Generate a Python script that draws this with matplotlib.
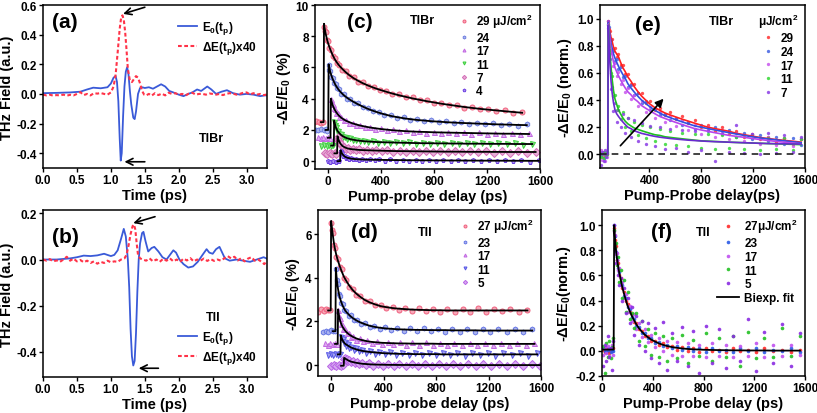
"""
THz field waveforms and fluence-dependent transient THz transmission
for TlBr and TlI (six-panel figure).
"""

import numpy as np
import matplotlib
matplotlib.use("Agg")
import matplotlib.pyplot as plt
from matplotlib.ticker import FormatStrFormatter

plt.rcParams["font.family"] = ["Liberation Sans", "DejaVu Sans"]
plt.rcParams["font.weight"] = "bold"
plt.rcParams["axes.labelweight"] = "bold"
plt.rcParams["mathtext.fontset"] = "custom"
plt.rcParams["mathtext.rm"] = "Liberation Sans:bold"
plt.rcParams["mathtext.it"] = "Liberation Sans:bold"
plt.rcParams["mathtext.bf"] = "Liberation Sans:bold"
plt.rcParams["axes.unicode_minus"] = False
plt.rcParams["axes.linewidth"] = 1.1

# ---------------- (a) TlBr waveforms: (time ps, field) ----------------
a_E0 = [(0.0, 0.005), (0.2, 0.007), (0.4, 0.01), (0.55, 0.015), (0.65, 0.03), (0.74, 0.042),
        (0.85, 0.038), (0.95, 0.045), (1.0, 0.07), (1.04, 0.11), (1.07, 0.12), (1.09, 0.08),
        (1.11, -0.05), (1.13, -0.3), (1.145, -0.45), (1.16, -0.4), (1.18, -0.15), (1.2, 0.05),
        (1.22, 0.15), (1.24, 0.18), (1.26, 0.13), (1.28, 0.02), (1.3, -0.07), (1.33, -0.16),
        (1.35, -0.17), (1.37, -0.12), (1.4, 0.0), (1.43, 0.04), (1.46, 0.045), (1.5, 0.04),
        (1.56, 0.045), (1.62, 0.035), (1.68, 0.05), (1.74, 0.065), (1.8, 0.05), (1.86, 0.02),
        (1.92, 0.01), (2.0, -0.005), (2.07, -0.015), (2.14, 0.0), (2.2, 0.01), (2.27, 0.03),
        (2.33, 0.02), (2.42, 0.05), (2.48, 0.03), (2.55, 0.0), (2.63, 0.015), (2.71, 0.025),
        (2.8, 0.005), (2.9, -0.005), (3.0, 0.0), (3.1, -0.005), (3.2, -0.015), (3.27, -0.01),
        (3.33, -0.01)]
a_dE = [(0.0, -0.005), (0.05, -0.01), (0.1, -0.005), (0.15, -0.012), (0.2, -0.008), (0.25, -0.01),
        (0.3, -0.005), (0.35, -0.012), (0.4, -0.006), (0.45, -0.01), (0.5, 0.0), (0.55, 0.012),
        (0.6, -0.008), (0.65, 0.0), (0.7, -0.01), (0.75, 0.005), (0.8, 0.002), (0.85, 0.006),
        (0.9, 0.0), (0.95, -0.005), (1.0, 0.01), (1.04, 0.05), (1.07, 0.13), (1.1, 0.28),
        (1.13, 0.44), (1.15, 0.51), (1.17, 0.53), (1.19, 0.5), (1.21, 0.42), (1.23, 0.3),
        (1.25, 0.17), (1.28, 0.09), (1.31, 0.08), (1.34, 0.1), (1.37, 0.12), (1.4, 0.11),
        (1.43, 0.07), (1.46, 0.02), (1.49, -0.005), (1.52, -0.01), (1.56, 0.0), (1.6, -0.012),
        (1.65, 0.005), (1.7, -0.008), (1.75, 0.002), (1.8, -0.01), (1.85, 0.008), (1.9, 0.0),
        (1.95, 0.005), (2.0, -0.005), (2.05, 0.0), (2.1, -0.01), (2.15, 0.002), (2.2, 0.008),
        (2.25, -0.005), (2.3, 0.0), (2.35, 0.0), (2.4, -0.005), (2.45, 0.003), (2.5, 0.0),
        (2.55, -0.005), (2.6, 0.0), (2.65, -0.008), (2.7, 0.0), (2.75, 0.005), (2.8, 0.002),
        (2.85, -0.005), (2.9, 0.0), (2.95, 0.008), (3.0, 0.01), (3.05, -0.004), (3.1, 0.005),
        (3.15, -0.005), (3.2, 0.0), (3.25, -0.008), (3.3, -0.004)]

# ---------------- (b) TlI waveforms ----------------
b_E0 = [(0.0, 0.0), (0.2, 0.0), (0.4, 0.005), (0.5, 0.01), (0.6, 0.017), (0.7, 0.015),
        (0.8, 0.018), (0.9, 0.025), (0.95, 0.02), (1.0, 0.015), (1.05, 0.02), (1.1, 0.04),
        (1.15, 0.09), (1.19, 0.133), (1.22, 0.1), (1.25, 0.0), (1.27, -0.12), (1.29, -0.3),
        (1.31, -0.42), (1.33, -0.46), (1.35, -0.44), (1.37, -0.32), (1.39, -0.14), (1.41, 0.0),
        (1.43, 0.07), (1.46, 0.115), (1.48, 0.12), (1.51, 0.08), (1.55, 0.035), (1.6, 0.05),
        (1.64, 0.055), (1.7, 0.035), (1.76, 0.01), (1.82, 0.0), (1.87, 0.02), (1.92, 0.04),
        (1.96, 0.03), (2.01, 0.0), (2.07, -0.02), (2.14, -0.035), (2.21, -0.03), (2.28, -0.01),
        (2.35, 0.02), (2.41, 0.045), (2.45, 0.03), (2.5, 0.025), (2.55, 0.045), (2.6, 0.055),
        (2.64, 0.03), (2.68, 0.005), (2.75, -0.005), (2.85, 0.0), (2.95, -0.005), (3.05, -0.01),
        (3.15, 0.0), (3.25, 0.01), (3.33, 0.0)]
b_dE = [(0.0, 0.0), (0.05, -0.005), (0.1, 0.002), (0.15, -0.008), (0.2, -0.004), (0.25, -0.01),
        (0.3, 0.0), (0.35, 0.012), (0.4, -0.005), (0.45, 0.004), (0.5, -0.008), (0.55, -0.002),
        (0.6, -0.012), (0.65, -0.005), (0.7, -0.015), (0.75, -0.008), (0.8, -0.018), (0.85, -0.01),
        (0.9, -0.015), (0.95, -0.005), (1.0, -0.012), (1.05, -0.008), (1.1, -0.01), (1.15, 0.0),
        (1.2, 0.005), (1.23, 0.02), (1.26, 0.06), (1.29, 0.11), (1.32, 0.145), (1.34, 0.152),
        (1.36, 0.13), (1.38, 0.07), (1.4, 0.02), (1.43, 0.005), (1.47, 0.0), (1.52, -0.005),
        (1.57, 0.005), (1.62, -0.008), (1.67, 0.0), (1.72, -0.01), (1.77, 0.003), (1.82, -0.005),
        (1.87, 0.005), (1.92, -0.008), (1.97, 0.0), (2.02, -0.01), (2.07, 0.004), (2.12, -0.004),
        (2.17, 0.006), (2.22, -0.008), (2.27, 0.0), (2.32, -0.005), (2.37, 0.004), (2.42, -0.006),
        (2.47, 0.002), (2.52, -0.006), (2.57, 0.0), (2.62, -0.005), (2.67, 0.005), (2.72, 0.015),
        (2.77, 0.005), (2.82, 0.012), (2.87, -0.004), (2.92, 0.006), (2.97, -0.008), (3.02, 0.004),
        (3.07, 0.01), (3.12, -0.005), (3.17, 0.0), (3.22, -0.01), (3.26, -0.02), (3.3, -0.005)]

# ---------------- (c), (d) delay grid relative to onset (ps) ----------------
tau_pre = [-95, -75, -55, -35, -18, -6]
tau_post = [3, 9, 16, 24, 33, 43, 55, 68, 83, 100, 120, 142, 167, 195, 226, 260, 297, 337,
            380, 425, 472, 520, 570, 620, 672, 725, 780, 835, 890, 947, 1005, 1063, 1122,
            1182, 1243, 1305, 1368, 1432, 1500]
tau_fit_pre = [-20, 0]

# ---------------- (c) TlBr, offset traces ----------------
c_labels = ["29 μJ/cm$^2$", "24", "17", "11", "7", "4"]
c_onset = [-35, 0, 17, 42, 67, 90]
c_base = [2.5, 2.0, 1.5, 1.0, 0.5, 0.0]
c_colors = ["#f0607e", "#6e7ee0", "#c268e2", "#3ccf3c", "#d46cb6", "#6a3ce2"]
c_markers = ["o", "h", "^", "v", "D", "p"]
c_data = [
    [2.55, 2.48, 2.56, 2.5, 2.45, 2.52,
     8.6, 8.35, 8.25, 7.78, 7.68, 7.25, 7.14, 6.74, 6.63, 6.26, 6.18, 5.84, 5.77, 5.45, 5.4, 5.1,
     5.06, 4.8, 4.77, 4.53, 4.52, 4.29, 4.28, 4.08, 4.08, 3.89, 3.9, 3.72, 3.74, 3.57, 3.6, 3.43,
     3.47, 3.31, 3.36, 3.21, 3.26, 3.11, 3.16],
    [2.02, 1.97, 2.05, 1.98, 2.03, 1.96,
     6.15, 5.85, 5.78, 5.42, 5.35, 5.02, 4.95, 4.66, 4.6, 4.33, 4.27, 4.0, 3.97, 3.74, 3.7, 3.45,
     3.42, 3.2, 3.16, 2.95, 2.96, 2.78, 2.8, 2.65, 2.7, 2.55, 2.62, 2.49, 2.55, 2.44, 2.5, 2.39,
     2.46, 2.35, 2.42, 2.31, 2.39, 2.28, 2.35],
    [1.52, 1.46, 1.55, 1.48, 1.53, 1.47,
     3.95, 3.72, 3.66, 3.38, 3.34, 3.08, 3.06, 2.83, 2.82, 2.62, 2.64, 2.45, 2.47, 2.3, 2.34, 2.17,
     2.21, 2.07, 2.12, 1.97, 2.05, 1.91, 1.97, 1.86, 1.93, 1.83, 1.9, 1.8, 1.88, 1.78, 1.86, 1.76,
     1.84, 1.74, 1.82, 1.72, 1.81, 1.71, 1.79],
    [0.97, 1.03, 0.98, 1.04, 0.99, 1.02,
     2.5, 2.3, 2.2, 1.95, 1.93, 1.74, 1.72, 1.56, 1.57, 1.43, 1.46, 1.34, 1.38, 1.27, 1.32, 1.22,
     1.28, 1.18, 1.25, 1.16, 1.23, 1.14, 1.21, 1.12, 1.19, 1.11, 1.18, 1.1, 1.17, 1.09, 1.16, 1.08,
     1.16, 1.07, 1.15, 1.07, 1.14, 1.06, 1.13],
    [0.52, 0.47, 0.53, 0.48, 0.51, 0.49,
     1.55, 1.38, 1.3, 1.1, 1.08, 0.92, 0.94, 0.81, 0.85, 0.74, 0.8, 0.7, 0.76, 0.67, 0.74, 0.65,
     0.72, 0.63, 0.7, 0.61, 0.68, 0.6, 0.67, 0.59, 0.66, 0.58, 0.65, 0.57, 0.65, 0.57, 0.64, 0.56,
     0.64, 0.55, 0.63, 0.55, 0.63, 0.55, 0.62],
    [0.02, -0.03, 0.01, -0.02, 0.03, -0.01,
     0.66, 0.55, 0.5, 0.34, 0.35, 0.22, 0.25, 0.15, 0.2, 0.11, 0.17, 0.08, 0.14, 0.07, 0.13, 0.05,
     0.12, 0.04, 0.11, 0.03, 0.1, 0.02, 0.09, 0.02, 0.08, 0.01, 0.08, 0.01, 0.07, 0.0, 0.07, 0.0,
     0.06, -0.01, 0.06, -0.01, 0.05, -0.02, 0.05],
]
c_fit = [
    [8.8, 8.45, 8.15, 7.85, 7.58, 7.32, 7.06, 6.8, 6.55, 6.32, 6.1, 5.9, 5.7, 5.5, 5.32, 5.15,
     4.99, 4.84, 4.7, 4.57, 4.45, 4.33, 4.22, 4.12, 4.02, 3.93, 3.84, 3.76, 3.68, 3.61, 3.54,
     3.47, 3.41, 3.35, 3.3, 3.25, 3.2, 3.15, 3.1],
    [6.2, 5.95, 5.7, 5.48, 5.28, 5.08, 4.88, 4.7, 4.53, 4.37, 4.21, 4.06, 3.92, 3.78, 3.64, 3.5,
     3.36, 3.23, 3.11, 3.0, 2.9, 2.82, 2.75, 2.69, 2.64, 2.6, 2.56, 2.53, 2.5, 2.47, 2.45, 2.43,
     2.41, 2.39, 2.37, 2.35, 2.34, 2.32, 2.31],
    [4.0, 3.8, 3.6, 3.43, 3.28, 3.14, 3.0, 2.88, 2.77, 2.67, 2.58, 2.5, 2.42, 2.35, 2.28, 2.22,
     2.16, 2.11, 2.06, 2.02, 1.98, 1.95, 1.92, 1.9, 1.88, 1.87, 1.85, 1.84, 1.83, 1.82, 1.81,
     1.8, 1.79, 1.78, 1.77, 1.76, 1.76, 1.75, 1.74],
    [2.6, 2.35, 2.15, 2.0, 1.88, 1.78, 1.68, 1.6, 1.53, 1.47, 1.42, 1.38, 1.34, 1.31, 1.28, 1.26,
     1.24, 1.22, 1.21, 1.2, 1.19, 1.18, 1.17, 1.16, 1.15, 1.15, 1.14, 1.14, 1.13, 1.13, 1.12,
     1.12, 1.12, 1.11, 1.11, 1.11, 1.1, 1.1, 1.1],
    [1.6, 1.42, 1.27, 1.14, 1.04, 0.96, 0.9, 0.85, 0.81, 0.78, 0.76, 0.74, 0.72, 0.71, 0.7, 0.69,
     0.68, 0.67, 0.66, 0.65, 0.645, 0.64, 0.635, 0.63, 0.625, 0.62, 0.615, 0.61, 0.61, 0.605,
     0.6, 0.6, 0.6, 0.595, 0.595, 0.59, 0.59, 0.59, 0.59],
    [0.7, 0.58, 0.47, 0.38, 0.31, 0.26, 0.22, 0.19, 0.165, 0.145, 0.13, 0.12, 0.11, 0.1, 0.095,
     0.09, 0.085, 0.08, 0.075, 0.07, 0.065, 0.06, 0.058, 0.055, 0.052, 0.05, 0.048, 0.045,
     0.043, 0.04, 0.038, 0.036, 0.034, 0.032, 0.03, 0.028, 0.026, 0.024, 0.022],
]

# ---------------- (d) TlI, offset traces ----------------
d_labels = ["27 μJ/cm$^2$", "23", "17", "11", "5"]
d_onset = [-3, 33, 50, 71, 96]
d_base = [2.5, 1.55, 0.97, 0.49, -0.03]
d_colors = ["#f0607e", "#6676e4", "#c268e2", "#5656e6", "#b864e6"]
d_markers = ["o", "h", "^", "v", "D"]
d_data = [
    [2.45, 2.55, 2.48, 2.56, 2.5, 2.53,
     6.5, 6.2, 6.05, 5.5, 5.38, 4.95, 4.85, 4.48, 4.38, 3.98, 3.9, 3.58, 3.5, 3.22, 3.18, 2.93,
     2.93, 2.73, 2.76, 2.6, 2.67, 2.53, 2.62, 2.49, 2.6, 2.46, 2.57, 2.45, 2.58, 2.44, 2.57, 2.45,
     2.6, 2.43, 2.56, 2.46, 2.58, 2.44, 2.54],
    [1.5, 1.58, 1.52, 1.6, 1.54, 1.57,
     4.4, 3.9, 3.7, 3.26, 3.17, 2.84, 2.79, 2.5, 2.49, 2.26, 2.27, 2.05, 2.08, 1.88, 1.93, 1.74,
     1.81, 1.66, 1.74, 1.6, 1.71, 1.57, 1.69, 1.55, 1.68, 1.54, 1.67, 1.53, 1.66, 1.52, 1.66, 1.52,
     1.65, 1.51, 1.65, 1.52, 1.64, 1.51, 1.64],
    [1.0, 0.94, 1.01, 0.95, 0.99, 0.96,
     2.5, 2.25, 2.16, 1.88, 1.86, 1.64, 1.65, 1.45, 1.48, 1.3, 1.34, 1.17, 1.23, 1.08, 1.15, 1.01,
     1.1, 0.97, 1.07, 0.95, 1.05, 0.94, 1.04, 0.93, 1.04, 0.93, 1.03, 0.92, 1.03, 0.92, 1.02, 0.91,
     1.03, 0.92, 1.02, 0.91, 1.02, 0.92, 1.01],
    [0.46, 0.52, 0.47, 0.53, 0.48, 0.5,
     1.3, 1.2, 1.19, 1.01, 1.04, 0.88, 0.95, 0.79, 0.85, 0.7, 0.78, 0.63, 0.7, 0.57, 0.66, 0.53,
     0.61, 0.49, 0.58, 0.47, 0.56, 0.46, 0.55, 0.45, 0.55, 0.44, 0.54, 0.44, 0.55, 0.43, 0.54, 0.44,
     0.55, 0.43, 0.54, 0.44, 0.56, 0.43, 0.54],
    [-0.05, 0.0, -0.04, 0.01, -0.03, -0.01,
     0.3, 0.33, 0.24, 0.27, 0.18, 0.22, 0.12, 0.17, 0.08, 0.14, 0.04, 0.1, 0.01, 0.08, -0.02, 0.07,
     -0.03, 0.05, -0.03, 0.05, -0.04, 0.05, -0.04, 0.06, -0.03, 0.05, -0.04, 0.06, -0.03, 0.05,
     -0.04, 0.06, -0.03, 0.05, -0.04, 0.05, -0.03, 0.06, -0.04],
]
d_fit = [
    [6.6, 6.3, 5.95, 5.6, 5.3, 5.03, 4.78, 4.54, 4.3, 4.05, 3.84, 3.63, 3.44, 3.27, 3.12, 2.98,
     2.87, 2.78, 2.7, 2.65, 2.61, 2.58, 2.56, 2.54, 2.53, 2.52, 2.51, 2.51, 2.5, 2.5, 2.5, 2.5,
     2.5, 2.5, 2.5, 2.5, 2.5, 2.5, 2.5],
    [4.45, 4.0, 3.62, 3.33, 3.1, 2.9, 2.72, 2.56, 2.43, 2.32, 2.21, 2.11, 2.02, 1.94, 1.87, 1.8,
     1.75, 1.71, 1.68, 1.66, 1.64, 1.63, 1.62, 1.61, 1.61, 1.6, 1.6, 1.6, 1.59, 1.59, 1.59,
     1.59, 1.58, 1.58, 1.58, 1.58, 1.58, 1.58, 1.58],
    [2.55, 2.3, 2.1, 1.93, 1.8, 1.69, 1.59, 1.5, 1.42, 1.35, 1.28, 1.22, 1.17, 1.13, 1.09, 1.06,
     1.04, 1.02, 1.01, 1.0, 0.99, 0.99, 0.98, 0.98, 0.98, 0.98, 0.97, 0.97, 0.97, 0.97, 0.97,
     0.97, 0.97, 0.97, 0.97, 0.97, 0.97, 0.97, 0.97],
    [1.36, 1.24, 1.14, 1.06, 0.99, 0.94, 0.9, 0.85, 0.8, 0.76, 0.72, 0.68, 0.65, 0.62, 0.6, 0.58,
     0.56, 0.54, 0.53, 0.52, 0.51, 0.51, 0.5, 0.5, 0.5, 0.5, 0.49, 0.49, 0.49, 0.49, 0.49,
     0.49, 0.49, 0.49, 0.49, 0.49, 0.49, 0.49, 0.49],
    [0.33, 0.31, 0.28, 0.25, 0.22, 0.19, 0.16, 0.14, 0.12, 0.1, 0.08, 0.06, 0.05, 0.035, 0.025,
     0.02, 0.015, 0.01, 0.008, 0.005, 0.005, 0.004, 0.003, 0.003, 0.002, 0.002, 0.002, 0.001,
     0.001, 0.001, 0.0, 0.0, 0.0, 0.0, 0.0, 0.0, 0.0, 0.0, 0.0],
]

# ---------------- (e) TlBr normalised ----------------
e_t_pre = [28, 38, 48, 58, 68, 76]
e_t_post = [84, 90, 97, 105, 114, 124, 135, 148, 162, 178, 195, 214, 235, 258, 283, 310, 340,
            372, 406, 442, 480, 520, 562, 606, 652, 700, 750, 800, 852, 905, 960, 1015, 1072,
            1130, 1190, 1250, 1312, 1375, 1440, 1505, 1570]
e_fit_pre_t = [28, 80]
e_labels = ["29", "24", "17", "11", "7"]
e_colors = ["#ff3030", "#4262e2", "#c855ee", "#35d835", "#8a3ce6"]
e_fit_colors = ["#ff1f1f", "#3050e0", "#b845ec", "#20c020", "#6a2ad0"]
e_data = [
    [0.01, -0.02, 0.02, -0.01, 0.01, 0.0,
     0.98, 0.92, 0.91, 0.84, 0.85, 0.77, 0.78, 0.72, 0.74, 0.66, 0.66, 0.59, 0.59, 0.52, 0.52,
     0.45, 0.45, 0.38, 0.39, 0.33, 0.34, 0.29, 0.31, 0.26, 0.28, 0.23, 0.25, 0.2, 0.22, 0.17, 0.2,
     0.15, 0.17, 0.13, 0.15, 0.11, 0.13, 0.09, 0.12, 0.08, 0.11],
    [-0.01, 0.02, -0.03, 0.01, -0.01, 0.02,
     0.95, 0.94, 0.85, 0.84, 0.76, 0.76, 0.69, 0.7, 0.63, 0.64, 0.57, 0.58, 0.5, 0.51, 0.44, 0.45,
     0.38, 0.39, 0.33, 0.34, 0.29, 0.3, 0.25, 0.27, 0.22, 0.24, 0.19, 0.22, 0.17, 0.2, 0.15, 0.18,
     0.13, 0.16, 0.11, 0.14, 0.1, 0.13, 0.08, 0.12, 0.07],
    [0.03, -0.04, 0.0, -0.05, 0.02, -0.02,
     0.93, 0.88, 0.86, 0.75, 0.76, 0.65, 0.67, 0.58, 0.61, 0.52, 0.55, 0.46, 0.49, 0.41, 0.44,
     0.36, 0.39, 0.31, 0.35, 0.27, 0.31, 0.24, 0.28, 0.21, 0.25, 0.18, 0.22, 0.15, 0.2, 0.13, 0.18,
     0.11, 0.16, 0.1, 0.15, 0.08, 0.13, 0.07, 0.12, 0.06, 0.11],
    [-0.02, 0.01, -0.03, 0.02, -0.01, 0.0,
     0.96, 0.8, 0.77, 0.6, 0.58, 0.43, 0.44, 0.33, 0.36, 0.26, 0.31, 0.2, 0.27, 0.17, 0.24, 0.14,
     0.22, 0.12, 0.2, 0.1, 0.19, 0.08, 0.17, 0.07, 0.16, 0.06, 0.15, 0.05, 0.15, 0.04, 0.14, 0.05,
     0.13, 0.04, 0.14, 0.03, 0.12, 0.04, 0.12, 0.03, 0.11],
    [-0.08, 0.02, -0.05, 0.03, -0.02, 0.01,
     0.98, 0.74, 0.7, 0.48, 0.5, 0.32, 0.38, 0.24, 0.33, 0.2, 0.3, 0.16, 0.27, 0.13, 0.25, 0.1,
     0.23, 0.08, 0.21, 0.06, 0.2, 0.04, 0.19, 0.05, 0.18, 0.02, 0.17, 0.03, 0.18, -0.05, 0.16,
     0.02, 0.22, 0.01, 0.15, 0.0, 0.16, 0.01, 0.14, 0.02, 0.13],
]
e_fit = [
    [0.97, 0.94, 0.9, 0.86, 0.83, 0.79, 0.76, 0.74, 0.72, 0.68, 0.64, 0.61, 0.57, 0.54, 0.5,
     0.465, 0.43, 0.4, 0.37, 0.345, 0.325, 0.305, 0.29, 0.275, 0.26, 0.245, 0.23, 0.215, 0.2,
     0.19, 0.18, 0.17, 0.155, 0.145, 0.135, 0.125, 0.117, 0.11, 0.103, 0.097, 0.09],
    [0.97, 0.92, 0.87, 0.82, 0.78, 0.74, 0.71, 0.68, 0.65, 0.62, 0.59, 0.56, 0.52, 0.49, 0.46,
     0.43, 0.4, 0.375, 0.35, 0.325, 0.305, 0.285, 0.27, 0.255, 0.24, 0.225, 0.21, 0.2, 0.19,
     0.18, 0.17, 0.16, 0.15, 0.14, 0.13, 0.122, 0.114, 0.107, 0.1, 0.093, 0.086],
    [0.96, 0.9, 0.84, 0.78, 0.73, 0.68, 0.64, 0.61, 0.58, 0.55, 0.52, 0.49, 0.46, 0.44, 0.41,
     0.39, 0.36, 0.34, 0.32, 0.3, 0.28, 0.265, 0.25, 0.235, 0.22, 0.205, 0.19, 0.18, 0.17, 0.16,
     0.15, 0.14, 0.133, 0.126, 0.118, 0.11, 0.103, 0.096, 0.09, 0.084, 0.078],
    [0.95, 0.84, 0.74, 0.64, 0.55, 0.47, 0.41, 0.37, 0.33, 0.3, 0.27, 0.245, 0.225, 0.21, 0.195,
     0.185, 0.175, 0.165, 0.155, 0.145, 0.14, 0.13, 0.125, 0.12, 0.115, 0.11, 0.105, 0.1, 0.098,
     0.095, 0.093, 0.09, 0.088, 0.086, 0.084, 0.082, 0.08, 0.078, 0.076, 0.074, 0.072],
    [0.95, 0.8, 0.66, 0.54, 0.45, 0.38, 0.33, 0.3, 0.28, 0.26, 0.24, 0.22, 0.2, 0.19, 0.175,
     0.165, 0.155, 0.148, 0.14, 0.133, 0.127, 0.122, 0.117, 0.113, 0.109, 0.105, 0.102, 0.099,
     0.096, 0.094, 0.092, 0.09, 0.088, 0.086, 0.084, 0.082, 0.08, 0.079, 0.078, 0.077, 0.076],
]

# ---------------- (f) TlI normalised ----------------
f_t_pre = [8, 20, 32, 44, 56, 68, 80, 90]
f_t_post = [96, 102, 109, 117, 126, 136, 147, 159, 172, 186, 201, 217, 234, 252, 271, 291, 312,
            335, 360, 387, 416, 447, 480, 515, 552, 591, 632, 675, 720, 767, 816, 867, 920, 975,
            1032, 1091, 1152, 1215, 1280, 1347, 1416, 1487, 1560]
f_labels = ["27μJ/cm$^2$", "23", "17", "11", "5"]
f_colors = ["#ff2a2a", "#2a5ae6", "#c050f0", "#22c022", "#8a2be2"]
f_data = [
    [0.01, -0.01, 0.02, 0.0, -0.02, 0.01, 0.0, 0.02,
     0.98, 0.88, 0.83, 0.72, 0.7, 0.6, 0.58, 0.5, 0.47, 0.4, 0.37, 0.31, 0.29, 0.23, 0.22, 0.17,
     0.16, 0.12, 0.12, 0.08, 0.08, 0.05, 0.06, 0.03, 0.04, 0.01, 0.03, 0.0, 0.02, -0.01, 0.02, 0.0,
     0.01, -0.01, 0.02, 0.0, 0.01, -0.01, 0.02, 0.0, 0.01, -0.01, 0.01],
    [0.02, 0.0, -0.01, 0.01, 0.02, -0.01, 0.01, 0.0,
     1.0, 0.91, 0.79, 0.75, 0.66, 0.63, 0.55, 0.52, 0.44, 0.42, 0.35, 0.33, 0.27, 0.25, 0.2, 0.19,
     0.14, 0.14, 0.1, 0.1, 0.06, 0.07, 0.04, 0.05, 0.02, 0.04, 0.01, 0.03, 0.0, 0.02, -0.01, 0.02,
     0.0, 0.01, -0.01, 0.02, 0.0, 0.02, -0.01, 0.01, 0.0, 0.02, -0.01],
    [-0.03, 0.03, -0.02, 0.04, -0.04, 0.02, 0.05, -0.03,
     0.95, 0.92, 0.77, 0.78, 0.64, 0.66, 0.52, 0.55, 0.42, 0.45, 0.31, 0.36, 0.24, 0.29, 0.17,
     0.22, 0.11, 0.17, 0.07, 0.13, 0.03, 0.1, 0.0, 0.08, -0.03, 0.07, -0.04, 0.06, -0.04, 0.05,
     -0.05, 0.06, -0.04, 0.05, -0.05, 0.04, -0.04, 0.06, -0.05, 0.05, -0.04, 0.05, -0.03],
    [0.04, -0.18, 0.06, -0.05, 0.08, -0.06, 0.03, 0.1,
     0.96, 0.82, 0.86, 0.68, 0.75, 0.55, 0.64, 0.42, 0.56, 0.31, 0.47, 0.25, 0.3, 0.18, 0.3, 0.08,
     0.24, 0.04, 0.17, -0.03, 0.14, -0.05, 0.12, -0.08, 0.1, -0.06, 0.13, -0.1, 0.09, -0.04, 0.14,
     -0.08, 0.1, -0.05, 0.12, -0.12, 0.15, -0.06, 0.1, -0.05, 0.18, -0.04, 0.12],
    [-0.12, 0.05, -0.08, 0.12, -0.05, 0.02, -0.15, 0.08,
     1.0, 0.8, 0.7, 0.72, 0.6, 0.52, 0.58, 0.4, 0.5, 0.3, 0.42, 0.22, 0.35, 0.13, 0.28, 0.05, 0.24,
     0.0, 0.22, -0.06, 0.18, -0.1, 0.23, -0.15, 0.14, -0.08, 0.19, -0.12, 0.16, -0.18, 0.2, -0.1,
     0.17, -0.14, 0.12, -0.08, 0.25, -0.16, 0.15, -0.1, 0.21, -0.12, 0.14],
]
f_fit_pre = [(0, 0.01), (92, 0.01)]
f_fit = [1.0, 0.9, 0.81, 0.74, 0.68, 0.62, 0.57, 0.51, 0.46, 0.41, 0.36, 0.32, 0.28, 0.245, 0.21,
         0.18, 0.155, 0.13, 0.11, 0.09, 0.075, 0.06, 0.048, 0.038, 0.03, 0.024, 0.019, 0.015,
         0.012, 0.01, 0.008, 0.007, 0.006, 0.005, 0.004, 0.004, 0.003, 0.003, 0.003, 0.002,
         0.002, 0.002, 0.002]

W, H = 817, 414


def add_axes_px(fig, left, top, right, bottom):
    return fig.add_axes([left / W, 1 - bottom / H, (right - left) / W, (bottom - top) / H])


def style_axis(ax, xlim, ylim, xticks, yticks, xlabel, ylabel, xfmt=None, yfmt=None):
    ax.set_xlim(xlim)
    ax.set_ylim(ylim)
    ax.set_xticks(xticks)
    ax.set_yticks(yticks)
    if xfmt:
        ax.xaxis.set_major_formatter(FormatStrFormatter(xfmt))
    if yfmt:
        ax.yaxis.set_major_formatter(FormatStrFormatter(yfmt))
    ax.set_xlabel(xlabel, fontsize=10.5, labelpad=1)
    ax.set_ylabel(ylabel, fontsize=10.5, labelpad=2)
    ax.tick_params(direction="out", length=3, width=1, labelsize=8.5, pad=1.5)


def light(color, f=0.45):
    rgb = np.array(matplotlib.colors.to_rgb(color))
    return tuple(rgb + (1 - rgb) * f)


def arrow(ax, head, tail, style="->"):
    ax.annotate("", xy=head, xytext=tail,
                arrowprops=dict(arrowstyle=style, lw=1.2, color="k", shrinkA=0, shrinkB=0,
                                mutation_scale=12))


def plot_waveform(ax, E0, dE, leg_loc, leg_anchor):
    E0 = np.array(E0)
    dE = np.array(dE)
    ax.plot(E0[:, 0], E0[:, 1], color="#3a5ad8", lw=1.3, label="E$_0$(t$_p$)")
    ax.plot(dE[:, 0], dE[:, 1], color="#ff3348", lw=1.5, ls=(0, (1.8, 1.2)),
            label="ΔE(t$_p$)x40")
    ax.legend(loc=leg_loc, bbox_to_anchor=leg_anchor, frameon=False, fontsize=8.5,
              handlelength=1.6, handletextpad=0.4, labelspacing=0.3)
    style_axis(ax, (0, 3.3), None, np.arange(0, 3.01, 0.5), [], "Time (ps)",
               "THz Field (a.u.)", xfmt="%.1f", yfmt="%.1f")


def plot_offset(ax, onsets, bases, data, fits, colors, markers, labels):
    tau_d = np.array(tau_pre + tau_post)
    tau_f = np.array(tau_fit_pre + tau_post)
    for t0, y, c, m, lab in zip(onsets, data, colors, markers, labels):
        ax.plot(t0 + tau_d, y, ls="none", marker=m, ms=3.6, mfc=light(c), mec=c, mew=0.7,
                label=lab)
    for t0, base, yf in zip(onsets, bases, fits):
        ax.plot(t0 + tau_f, [base, base] + yf, color="k", lw=1.3)
    ax.legend(loc="upper right", frameon=False, fontsize=8.5, markerscale=0.6,
              handlelength=1.0, handletextpad=0.5, labelspacing=0.12, borderaxespad=0.2)


def main():
    fig = plt.figure(figsize=(W / 100, H / 100), dpi=100)

    # (a)
    ax = add_axes_px(fig, 43, 6, 267, 169)
    plot_waveform(ax, a_E0, a_dE, "upper right", (1.0, 0.98))
    ax.set_ylim(-0.5, 0.6)
    ax.set_yticks(np.arange(-0.4, 0.61, 0.2))
    ax.text(0.04, 0.9, "(a)", transform=ax.transAxes, fontsize=15, va="center")
    ax.text(2.3, -0.3, "TlBr", fontsize=9, va="center")
    arrow(ax, (1.18, 0.54), (1.5, 0.585))
    arrow(ax, (1.2, -0.458), (1.5, -0.458))

    # (b)
    ax = add_axes_px(fig, 43, 211, 267, 378)
    plot_waveform(ax, b_E0, b_dE, "lower right", (1.0, 0.0))
    ax.set_ylim(-0.51, 0.215)
    ax.set_yticks([-0.4, -0.2, 0.0, 0.2])
    ax.text(0.04, 0.84, "(b)", transform=ax.transAxes, fontsize=15, va="center")
    ax.text(2.4, -0.25, "TlI", fontsize=9, va="center")
    arrow(ax, (1.33, 0.158), (1.65, 0.186))
    arrow(ax, (1.41, -0.472), (1.7, -0.472))

    # (c)
    ax = add_axes_px(fig, 315, 6, 540, 170)
    plot_offset(ax, c_onset, c_base, c_data, c_fit, c_colors, c_markers, c_labels)
    style_axis(ax, (-100, 1600), (-0.5, 10), [0, 400, 800, 1200, 1600], [0, 2, 4, 6, 8, 10],
               "Pump-probe delay (ps)", "-ΔE/E$_0$ (%)")
    ax.text(0.14, 0.9, "(c)", transform=ax.transAxes, fontsize=15, va="center")
    ax.text(0.42, 0.91, "TlBr", transform=ax.transAxes, fontsize=9, va="center")

    # (d)
    ax = add_axes_px(fig, 318, 211, 541, 377)
    plot_offset(ax, d_onset, d_base, d_data, d_fit, d_colors, d_markers, d_labels)
    style_axis(ax, (-100, 1600), (-0.5, 7.1), [0, 400, 800, 1200, 1600], [0, 2, 4, 6],
               "Pump-probe delay (ps)", "-ΔE/E$_0$ (%)")
    ax.text(0.15, 0.87, "(d)", transform=ax.transAxes, fontsize=15, va="center")
    ax.text(0.45, 0.87, "TlI", transform=ax.transAxes, fontsize=9, va="center")

    # (e)
    ax = add_axes_px(fig, 600, 6, 805, 169)
    t_e = np.array(e_t_pre + e_t_post)
    for y, c, lab in zip(e_data, e_colors, e_labels):
        ax.plot(t_e, y, ls="none", marker="o", ms=2.4, color=c, alpha=0.85, mew=0, label=lab)
    for yf, c in zip(e_fit, e_fit_colors):
        ax.plot(e_fit_pre_t + e_t_post, [0.0, 0.0] + yf, color=c, lw=1.2)
    ax.axhline(0, color="#222222", lw=1.2, ls=(0, (4, 3)))
    arrow(ax, (510, 0.41), (177, 0.064), style="-|>")
    ax.legend(loc="upper right", frameon=False, fontsize=8.5, title="μJ/cm$^2$",
              title_fontproperties={"weight": "bold", "size": 8.5}, markerscale=1.0,
              handlelength=1.0, handletextpad=0.6, labelspacing=0.15, borderaxespad=0.2)
    style_axis(ax, (20, 1600), (-0.1, 1.1), [400, 800, 1200, 1600],
               np.arange(0, 1.01, 0.2), "Pump-Probe delay(ps)", "-ΔE/E$_0$ (norm.)",
               yfmt="%.1f")
    ax.text(0.17, 0.88, "(e)", transform=ax.transAxes, fontsize=15, va="center")
    ax.text(0.53, 0.9, "TlBr", transform=ax.transAxes, fontsize=9, va="center")

    # (f)
    ax = add_axes_px(fig, 602, 211, 805, 377)
    t_f = np.array(f_t_pre + f_t_post)
    for y, c, lab in zip(f_data, f_colors, f_labels):
        ax.plot(t_f, y, ls="none", marker="o", ms=2.6, color=c, alpha=0.9, mew=0, label=lab)
    fp = np.array(f_fit_pre)
    ax.plot(list(fp[:, 0]) + f_t_post, list(fp[:, 1]) + f_fit, color="k", lw=1.3,
            label="Biexp. fit")
    ax.legend(loc="upper right", frameon=False, fontsize=8.5, markerscale=1.0,
              handlelength=1.8, handletextpad=0.5, labelspacing=0.15, borderaxespad=0.2)
    style_axis(ax, (0, 1600), (-0.2, 1.12), [0, 400, 800, 1200, 1600],
               np.arange(-0.2, 1.01, 0.2), "Pump-Probe delay (ps)", "-ΔE/E$_0$(norm.)",
               yfmt="%.1f")
    ax.text(0.24, 0.87, "(f)", transform=ax.transAxes, fontsize=15, va="center")
    ax.text(0.46, 0.87, "TlI", transform=ax.transAxes, fontsize=9, va="center")

    fig.savefig("out.png", dpi=100)
    plt.close(fig)


if __name__ == "__main__":
    main()
